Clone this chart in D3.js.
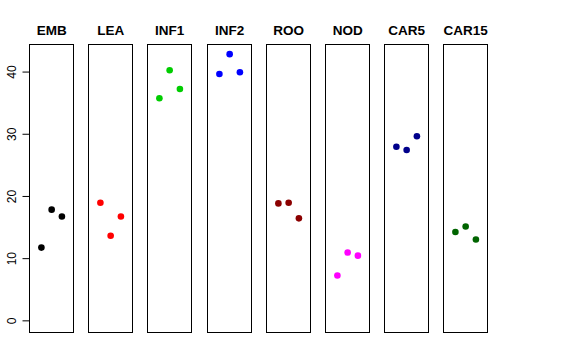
<!DOCTYPE html>
<html><head><meta charset="utf-8">
<script src="https://cdn.jsdelivr.net/npm/d3@7"></script>
<style>body{margin:0;background:#fff}svg{display:block}</style>
</head><body>
<svg id="c" width="576" height="360"></svg>
<script>
const categories = ["EMB","LEA","INF1","INF2","ROO","NOD","CAR5","CAR15"];
const colors = ["#000000","#FF0000","#00CD00","#0000FF","#8B0000","#FF00FF","#00008B","#006400"];
const replicate = [1,2,3];
const values = [
  [11.7,17.8,16.7],
  [18.9,13.6,16.7],
  [35.7,40.2,37.2],
  [39.6,42.8,39.9],
  [18.8,18.9,16.4],
  [7.2,10.9,10.4],
  [27.9,27.4,29.6],
  [14.2,15.1,13.0]
];
const yTicks = [0,10,20,30,40];

const svg = d3.select("#c");
const plotTop = 43.5, plotBottom = 331, left0 = 29, step = 59.2, pw = 44.3;
const ymax = 42.8, ext = ymax*0.04;
const y = d3.scaleLinear().domain([-ext, ymax+ext]).range([plotBottom, plotTop]);
const px = d3.scaleLinear().domain([0, categories.length]).range([left0, left0 + step*categories.length]);
const x = d3.scaleLinear().domain([-0.16, 4.16]).range([0, pw]);

categories.forEach((cat, i) => {
  const g = svg.append("g").attr("transform", `translate(${Math.round(px(i))+0.5},0)`);
  g.append("rect").attr("x",0).attr("y",Math.round(plotTop)+0.5).attr("width",Math.round(pw)).attr("height",Math.round(plotBottom-plotTop))
    .attr("fill","none").attr("stroke","#000").attr("stroke-width",1);
  g.append("text").attr("x",pw/2).attr("y",35).attr("text-anchor","middle")
    .attr("font-family","Liberation Sans, Arial, sans-serif").attr("font-weight","bold").attr("font-size","13.5px").text(cat);
  g.selectAll("circle").data(values[i]).join("circle")
    .attr("cx",(d,j)=>x(replicate[j])).attr("cy",d=>y(d)).attr("r",3.3).attr("fill",colors[i]);
});

// y axis
const ax = svg.append("g").attr("transform",`translate(${Math.round(px(0))+0.5},0)`)
  .call(d3.axisLeft(y).tickValues(yTicks).tickSize(7).tickPadding(0).tickFormat(d3.format("d")));
ax.select(".domain").remove();
ax.append("line").attr("x1",0).attr("x2",0).attr("y1",y(0)).attr("y2",y(40)).attr("stroke","#000");
ax.selectAll(".tick line").attr("stroke","#000");
ax.selectAll(".tick text").attr("font-family","Liberation Sans, Arial, sans-serif").attr("font-size","12px").attr("fill","#000")
  .attr("transform","translate(-18,0) rotate(-90)").attr("x",0).attr("dy","0").attr("text-anchor","middle").attr("dominant-baseline","central");
</script>
</body></html>
